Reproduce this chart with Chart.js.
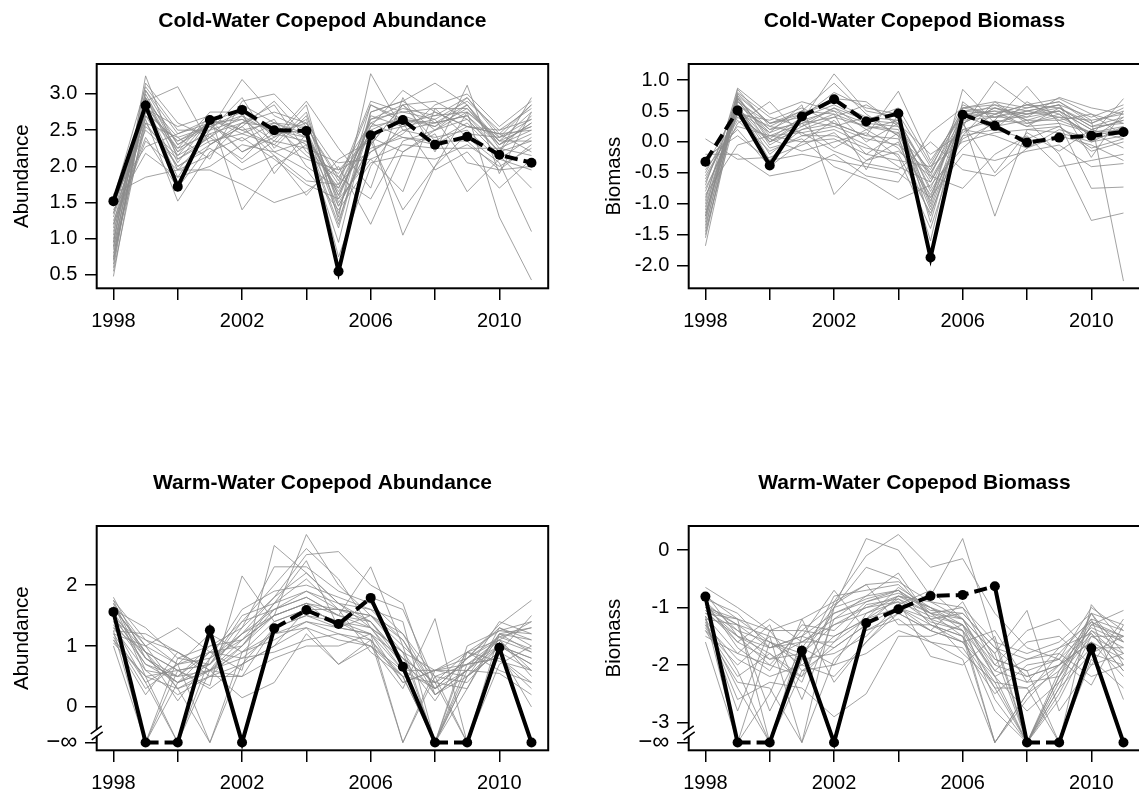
<!DOCTYPE html>
<html>
<head>
<meta charset="utf-8">
<script src="https://cdn.jsdelivr.net/npm/chart.js@4.4.1/dist/chart.umd.min.js"></script>
<style>
  html, body { margin: 0; padding: 0; background: #fff; overflow: hidden; width: 1139px; height: 794px; }
  canvas { position: absolute; }
</style>
</head>
<body>
<canvas id="coldAbund" width="570" height="332" style="left:0px;top:0px"></canvas>
<canvas id="coldBiom" width="570" height="332" style="left:592px;top:0px"></canvas>
<canvas id="warmAbund" width="570" height="332" style="left:0px;top:462px"></canvas>
<canvas id="warmBiom" width="570" height="332" style="left:592px;top:462px"></canvas>
<script>
// years on the x axis
const years = [1998, 1999, 2000, 2001, 2002, 2003, 2004, 2005, 2006, 2007, 2008, 2009, 2010, 2011];
const xTickYears = [1998, 2000, 2002, 2004, 2006, 2008, 2010];
const xLabelYears = [1998, 2002, 2006, 2010];
const N = -Infinity; // zero catch -> log = -inf

// ---- Cold-Water Copepod Abundance ----
const coldAbundObs = [1.52, 2.84, 1.72, 2.64, 2.78, 2.50, 2.49, 0.55, 2.43, 2.64, 2.30, 2.41, 2.16, 2.05];
const coldAbundDashed = [0, 0, 0, 1, 1, 1, 0, 0, 1, 1, 1, 1, 1];
const coldAbundTicks = [0.5, 1.0, 1.5, 2.0, 2.5, 3.0];
const coldAbundRuns = [
  [0.48, 2.95, 2.30, 2.55, 2.70, 2.45, 2.60, 1.60, 2.50, 2.70, 2.55, 2.80, 2.30, 2.60],
  [0.75, 3.25, 2.10, 2.40, 2.85, 2.60, 2.40, 1.75, 2.85, 2.60, 2.70, 2.95, 2.40, 2.85],
  [1.05, 3.05, 2.45, 2.65, 2.50, 2.30, 2.75, 1.45, 2.30, 2.85, 2.90, 2.65, 2.20, 2.95],
  [1.30, 2.70, 2.00, 2.30, 2.60, 2.85, 2.20, 1.90, 2.60, 2.40, 2.30, 2.55, 2.45, 2.20],
  [0.90, 2.80, 1.85, 2.50, 3.20, 2.70, 2.50, 1.30, 3.28, 2.50, 2.60, 2.70, 2.30, 2.50],
  [1.60, 2.27, 2.45, 2.60, 2.20, 2.40, 2.90, 2.25, 1.70, 2.95, 2.20, 3.12, 1.90, 2.75],
  [1.45, 2.65, 1.52, 2.20, 2.40, 2.10, 1.75, 1.55, 2.10, 1.65, 2.80, 2.40, 2.05, 1.10],
  [0.65, 3.00, 2.20, 2.70, 1.40, 2.00, 2.30, 0.95, 2.75, 2.90, 3.15, 2.85, 2.35, 2.35],
  [1.62, 1.85, 1.95, 1.95, 1.75, 1.50, 1.65, 2.00, 1.20, 2.20, 2.45, 1.65, 2.10, 1.95],
  [1.20, 2.90, 3.10, 2.30, 2.55, 2.90, 2.40, 1.65, 2.45, 1.05, 2.00, 2.75, 1.30, 0.43],
  [0.85, 2.60, 2.40, 2.10, 2.90, 3.00, 2.55, 1.80, 2.90, 2.75, 2.65, 2.90, 2.50, 2.80],
  [1.40, 2.18, 1.85, 2.00, 2.30, 2.20, 1.95, 1.40, 2.05, 2.15, 2.10, 2.30, 2.00, 2.25],
  [1.10, 2.75, 2.35, 2.60, 2.65, 2.35, 2.85, 1.25, 2.55, 3.05, 2.75, 2.55, 2.50, 2.65],
  [0.95, 3.15, 2.60, 2.40, 2.10, 2.55, 2.15, 1.85, 1.55, 2.35, 2.50, 2.85, 2.25, 2.45],
  [1.35, 2.85, 2.25, 2.75, 2.75, 1.90, 2.45, 0.75, 2.00, 2.60, 1.95, 2.20, 1.70, 2.10],
  [0.80, 2.55, 2.15, 2.65, 2.45, 2.65, 2.00, 1.70, 2.65, 2.85, 2.35, 2.60, 2.15, 1.70],
  [1.55, 3.10, 2.50, 2.50, 2.95, 2.25, 2.70, 1.50, 2.20, 2.45, 2.85, 3.00, 2.55, 2.90],
  [1.25, 2.40, 1.70, 2.30, 2.55, 2.15, 1.60, 2.10, 2.35, 1.40, 2.00, 2.45, 2.40, 2.55],
  [0.70, 2.95, 2.05, 2.65, 2.20, 2.45, 2.35, 1.15, 2.70, 2.55, 2.65, 2.05, 1.95, 2.30],
  [1.15, 2.85, 1.95, 2.15, 2.60, 2.75, 2.60, 1.95, 2.40, 2.20, 2.50, 2.75, 2.35, 2.75],
  [0.55, 2.70, 2.25, 2.45, 2.60, 2.55, 2.30, 1.70, 2.55, 2.65, 2.60, 2.70, 2.20, 2.70],
  [1.00, 2.90, 2.40, 2.55, 2.75, 2.45, 2.50, 1.55, 2.65, 2.75, 2.80, 2.80, 2.35, 2.55],
  [1.50, 2.50, 2.10, 2.35, 2.45, 2.30, 2.10, 1.95, 2.20, 2.50, 2.40, 2.50, 2.10, 2.40],
  [0.60, 3.05, 2.30, 2.60, 2.80, 2.40, 2.65, 1.35, 2.85, 2.65, 2.55, 2.95, 2.45, 2.85],
  [1.20, 2.35, 1.95, 2.45, 2.05, 2.35, 2.25, 2.05, 2.10, 2.30, 2.25, 2.25, 2.25, 2.15],
  [0.88, 2.80, 2.55, 2.70, 2.50, 2.60, 2.45, 1.60, 2.60, 2.80, 2.70, 2.75, 2.40, 2.65],
  [1.35, 2.60, 2.00, 2.25, 1.95, 2.15, 1.80, 1.75, 2.25, 2.40, 2.35, 2.35, 1.95, 2.00],
  [0.72, 2.85, 2.20, 2.50, 2.65, 2.50, 2.40, 1.20, 2.75, 2.90, 2.60, 2.85, 2.30, 2.60],
  [1.45, 2.75, 2.35, 2.55, 2.35, 2.60, 2.55, 1.85, 2.45, 2.55, 2.75, 2.55, 2.45, 2.50],
  [0.95, 2.95, 2.15, 2.40, 2.70, 2.20, 2.35, 1.45, 2.30, 2.85, 2.50, 2.65, 2.20, 2.35]
];

// ---- Cold-Water Copepod Biomass ----
const coldBiomObs = [-0.32, 0.51, -0.38, 0.41, 0.69, 0.33, 0.46, -1.87, 0.44, 0.26, -0.01, 0.07, 0.10, 0.16];
const coldBiomDashed = [1, 0, 0, 1, 1, 1, 0, 0, 1, 1, 1, 1, 1];
const coldBiomTicks = [-2.0, -1.5, -1.0, -0.5, 0.0, 0.5, 1.0];
const coldBiomRuns = [
  [-1.68, 0.70, 0.10, 0.30, 0.55, 0.20, 0.35, -0.60, 0.30, 0.55, 0.45, 0.50, 0.20, 0.35],
  [-1.30, 0.85, 0.25, 0.50, 0.95, 0.45, 0.10, -0.45, 0.60, 0.40, 0.55, 0.65, 0.30, 0.55],
  [-0.90, 0.60, -0.20, 0.20, 0.40, 0.60, 0.30, -0.80, 0.10, 0.65, 0.30, 0.40, 0.15, 0.20],
  [-0.50, 0.45, 0.35, 0.55, 0.30, 0.10, 0.82, -0.30, 0.45, 0.20, 0.65, 0.35, 0.45, 0.10],
  [0.05, -0.28, -0.25, -0.05, 0.15, -0.30, -0.15, -0.55, -0.75, -0.20, 0.10, -0.40, -0.30, -0.20],
  [-1.10, 0.75, 0.00, 0.35, 1.10, 0.50, 0.40, -1.00, 0.85, 0.30, 0.50, 0.60, 0.40, 0.60],
  [-0.20, -0.20, -0.55, -0.45, -0.20, -0.55, -0.65, 0.15, 0.55, 0.60, 0.35, -0.20, -1.27, -1.15],
  [-1.45, 0.50, 0.15, 0.60, -0.85, -0.30, 0.00, -1.20, 0.35, -1.20, 0.20, 0.25, -0.15, 0.00],
  [-0.75, 0.30, 0.65, 0.10, 0.20, -0.05, -0.40, -0.65, 0.25, 0.98, 0.60, 0.45, 0.10, 0.70],
  [-1.00, 0.65, 0.30, 0.40, 0.60, 0.35, 0.55, -0.35, 0.50, 0.55, 0.40, 0.72, 0.55, 0.45],
  [-0.40, 0.55, -0.10, 0.05, -0.40, -0.60, -0.93, -0.70, -0.10, 0.35, 0.90, 0.30, -0.75, -0.73],
  [-1.20, 0.80, 0.40, 0.25, 0.45, 0.25, 0.20, -0.90, 0.55, 0.45, 0.25, 0.55, 0.25, 0.40],
  [-0.60, 0.40, 0.05, -0.15, 0.00, 0.15, -0.25, -1.40, 0.20, 0.10, -0.10, 0.20, 0.05, 0.15],
  [-1.50, 0.70, 0.20, 0.45, 0.70, 0.65, 0.25, -0.50, 0.40, 0.60, 0.50, 0.40, 0.35, -2.25],
  [-0.85, -0.05, 0.10, 0.15, -0.15, -0.35, -0.45, 0.00, -0.45, -0.55, -0.10, 0.10, -0.05, -0.30],
  [-1.35, 0.60, -0.30, 0.35, 0.25, 0.40, 0.10, -1.60, 0.65, 0.25, 0.35, 0.50, 0.00, 0.25],
  [-0.95, 0.87, 0.45, 0.65, 0.50, 0.00, 0.30, -0.20, 0.15, 0.45, 0.60, 0.70, 0.45, 0.30],
  [-0.30, 0.20, -0.40, 0.00, 0.35, -0.20, 0.15, -1.10, 0.30, -0.50, 0.15, -0.15, 0.20, 0.05],
  [-1.15, 0.55, 0.00, 0.30, -0.10, 0.20, -0.10, -0.85, 0.05, 0.30, 0.45, 0.60, -0.25, 0.50],
  [-0.70, 0.75, 0.30, 0.50, 0.45, -0.45, 0.45, -0.40, 0.45, 0.50, 0.25, 0.30, 0.15, -0.10],
  [-1.25, 0.65, 0.15, 0.35, 0.50, 0.30, 0.25, -0.75, 0.40, 0.50, 0.45, 0.55, 0.25, 0.30],
  [-0.80, 0.45, 0.00, 0.20, 0.30, 0.10, 0.05, -0.95, 0.20, 0.35, 0.30, 0.45, 0.10, 0.20],
  [-1.40, 0.78, 0.30, 0.45, 0.65, 0.40, 0.35, -0.55, 0.55, 0.65, 0.55, 0.65, 0.35, 0.45],
  [-0.55, 0.35, -0.15, 0.10, 0.10, -0.10, -0.20, -1.15, 0.10, 0.20, 0.05, 0.25, -0.10, 0.05],
  [-1.05, 0.60, 0.20, 0.30, 0.40, 0.25, 0.15, -0.65, 0.35, 0.40, 0.40, 0.50, 0.20, 0.35],
  [-0.25, 0.10, -0.30, -0.20, -0.30, -0.40, -0.50, -0.90, -0.20, -0.30, -0.15, -0.05, -0.40, -0.35],
  [-1.55, 0.72, 0.05, 0.40, 0.80, 0.55, 0.45, -1.30, 0.50, 0.45, 0.60, 0.55, 0.30, 0.50],
  [-0.65, 0.50, 0.25, 0.15, 0.25, 0.05, -0.05, -0.50, 0.30, 0.55, 0.35, 0.35, 0.15, 0.25],
  [-1.20, 0.68, -0.05, 0.25, 0.55, 0.35, 0.30, -1.05, 0.45, 0.40, 0.50, 0.60, 0.05, 0.40],
  [-0.45, 0.25, 0.10, 0.00, 0.05, -0.20, -0.30, -0.40, 0.00, 0.15, 0.20, 0.15, 0.00, 0.10]
];

// ---- Warm-Water Copepod Abundance ----
const warmAbundObs = [1.56, N, N, 1.26, N, 1.29, 1.59, 1.36, 1.79, 0.66, N, N, 0.97, N];
const warmAbundDashed = [0, 1, 0, 0, 0, 1, 1, 1, 0, 0, 1, 0, 0];
const warmAbundTicks = [0, 1, 2];
const warmAbundRuns = [
  [1.80, 0.80, 0.40, 0.60, 1.10, 1.50, 2.83, 2.00, 1.50, 0.90, N, 0.50, 1.20, 0.90],
  [1.40, 1.10, 0.70, 0.90, 0.60, 2.65, 2.20, 1.70, 1.30, 0.60, 0.30, 0.80, 1.35, 1.75],
  [1.00, N, 0.60, 0.35, 2.15, 1.40, 1.60, 1.40, 1.10, 0.40, 0.60, 0.90, 1.10, 0.50],
  [1.70, 0.50, N, 0.80, 1.20, 1.80, 2.50, 2.55, 2.00, 1.70, 0.20, 0.60, 1.40, 1.20],
  [1.30, 0.90, 0.30, N, 0.90, 1.10, 1.40, 1.30, 1.20, N, 0.60, 0.70, 0.80, 0.30],
  [1.60, 1.30, 0.80, 0.70, 1.50, 1.70, 1.90, 1.60, 1.40, 0.70, N, 1.00, 1.25, 1.40],
  [1.10, 0.20, 0.90, 0.60, 0.15, 0.40, 1.20, 0.70, 1.00, 0.50, 0.40, N, 0.90, 0.00],
  [1.50, 0.70, 0.50, 1.00, 1.30, 2.30, 2.30, 1.90, 1.70, 1.20, 0.50, 0.40, 1.00, 0.80],
  [1.20, 1.00, 1.30, 0.90, 0.80, 0.90, 1.10, 1.20, 1.00, 0.30, 1.45, N, 0.70, 1.00],
  [1.75, 0.60, 0.20, 0.50, 1.00, 1.60, 1.80, 1.50, 2.30, 1.00, N, 0.60, 1.10, 0.60],
  [1.35, 0.40, 0.70, N, 0.70, 1.30, 1.50, 1.40, 1.20, 0.80, 0.10, 0.90, 0.60, 0.40],
  [1.65, 0.90, 0.10, 0.80, 1.60, 1.90, 2.00, 1.80, 1.60, 1.40, N, 0.30, 1.30, 1.10],
  [1.15, 0.30, 0.70, 1.20, 0.90, 1.20, 1.30, 0.70, 1.10, N, 0.50, 0.70, 1.00, 0.70],
  [1.45, 0.80, 0.40, 0.70, 1.40, 2.00, 2.60, 2.10, 1.30, 0.90, 0.20, 0.50, 0.90, 1.50],
  [1.25, 1.20, 0.90, 0.50, 0.50, 0.80, 1.00, 1.00, 1.20, 0.60, 0.60, 0.60, 0.55, 0.20],
  [1.55, N, 0.80, 1.00, 1.10, 1.50, 1.70, 1.30, 1.50, 1.10, 0.30, 0.80, 1.15, 0.95],
  [1.05, 0.50, 0.60, 0.30, 0.70, 1.00, 1.60, 1.60, 0.90, 0.50, N, 0.90, 0.75, 0.60],
  [1.70, 1.00, 0.30, 0.60, 1.00, 1.70, 2.40, 1.30, 1.80, 1.60, 0.40, 0.30, 1.20, 1.30],
  [1.50, 0.90, 0.60, 0.70, 1.20, 1.60, 1.80, 1.50, 1.40, 0.80, 0.40, 0.70, 1.10, 0.90],
  [1.30, 0.60, 0.50, 0.60, 0.90, 1.40, 1.60, 1.40, 1.30, 0.70, 0.30, 0.60, 1.00, 0.80],
  [1.60, 1.00, 0.70, 0.80, 1.10, 1.70, 2.10, 1.60, 1.50, 1.00, 0.50, N, 1.20, 1.10],
  [1.20, 0.40, N, 0.60, 0.80, 1.20, 1.40, 1.20, 1.10, 0.50, N, 0.50, 0.90, 0.60],
  [1.40, 0.70, 0.40, 0.90, 1.00, 1.50, 1.70, 1.50, 1.30, 0.90, 0.60, 0.80, 1.30, 1.00],
  [1.75, 1.10, 0.90, 0.60, 1.30, 1.80, 2.20, 1.70, 1.60, 1.10, 0.20, 0.60, 1.15, 1.30],
  [1.10, 0.50, 0.30, 0.50, 0.70, 1.00, 1.30, 1.10, 1.00, 0.60, N, 0.70, 0.80, 0.40],
  [1.55, 0.80, 0.50, 0.90, 1.40, 1.60, 1.90, 1.70, 1.40, 0.80, 0.40, 0.90, 1.25, 1.20],
  [1.25, N, 0.40, 0.60, 0.50, 1.30, 1.50, 1.30, 1.20, 0.40, 0.60, 0.50, 1.00, 0.70],
  [1.65, 0.90, 0.60, 0.70, 1.20, 1.50, 1.70, 1.60, 1.50, 1.20, 0.30, 0.80, 1.10, 1.40]
];

// ---- Warm-Water Copepod Biomass ----
const warmBiomObs = [-0.81, N, N, -1.75, N, -1.27, -1.03, -0.80, -0.78, -0.63, N, N, -1.71, N];
const warmBiomDashed = [0, 1, 0, 0, 0, 1, 1, 1, 1, 0, 1, 0, 0];
const warmBiomTicks = [-3, -2, -1, 0];
const warmBiomRuns = [
  [-0.65, -1.00, -1.40, -1.20, -0.90, -0.10, 0.27, -0.30, -0.15, -1.10, -1.70, -1.90, -1.00, -1.40],
  [-1.00, -1.50, -1.80, -2.20, -1.00, 0.20, 0.00, -0.80, 0.20, -1.60, N, -2.20, -1.30, -1.05],
  [-1.30, -2.40, N, -1.50, -1.70, -1.30, -0.80, -1.00, -1.40, -2.40, -2.40, N, -0.95, -1.60],
  [-1.10, -1.20, -1.60, -1.90, -0.80, -0.70, -0.60, -1.10, -1.00, -2.00, -1.40, -1.20, -1.80, -1.50],
  [-1.60, N, -1.60, -2.00, -2.20, -1.60, -1.00, -1.40, -1.60, -2.20, N, -2.50, -1.40, -1.90],
  [-0.90, -1.70, -2.10, -1.30, -1.40, -0.90, -0.70, -1.30, -1.50, N, -2.60, -2.00, -1.60, -2.20],
  [-1.20, -1.30, -2.80, -1.70, -2.00, -1.10, -0.80, -0.90, -1.20, -1.80, -1.05, -2.80, -2.00, -1.80],
  [-1.40, -2.00, -1.50, N, -1.00, -0.30, -0.50, -1.20, -1.10, -1.70, -2.20, -2.00, -1.20, -2.60],
  [-0.85, -1.10, -1.70, -1.50, -0.70, -1.40, -1.20, -1.60, -1.70, -2.50, -2.00, -1.90, -2.35, -1.30],
  [-1.05, -1.40, -1.90, -1.80, -1.30, -1.00, -0.90, -1.85, -2.00, -1.50, N, -2.20, -1.10, -2.00],
  [-1.25, -2.60, -2.30, -2.40, -2.90, -2.50, -1.50, -1.50, -1.30, -2.20, -2.80, -2.30, -1.70, -1.70],
  [-0.95, -1.60, -1.20, -1.60, -1.60, -1.20, -0.65, -1.00, -1.30, -2.60, N, -2.60, -1.50, -1.50],
  [-1.15, N, -2.50, -1.20, -2.30, -1.60, -1.10, -1.40, -0.90, -1.90, -2.10, N, -1.90, -2.40],
  [-1.50, -1.80, -1.30, -2.60, -1.20, -0.80, -0.40, -1.20, -1.80, -2.30, N, -2.10, -1.25, -1.60],
  [-1.00, -1.20, N, -1.90, -1.80, -1.50, -0.95, -0.70, -1.20, -2.10, -1.60, -1.50, -2.00, -1.20],
  [-1.35, -2.20, -1.80, -2.30, -0.90, -0.60, -1.30, -1.30, -1.60, -1.40, -2.30, -1.70, -1.45, -2.10],
  [-0.75, -1.50, -2.00, -1.40, -1.50, -1.20, -0.85, -1.10, -1.50, -2.80, N, -2.40, -1.10, -1.80],
  [-1.20, -2.80, -1.40, -2.10, -2.00, -1.80, -1.40, -1.60, -1.90, N, -2.50, -1.80, -2.20, -2.00],
  [-1.10, -1.50, -1.70, -1.60, -1.20, -1.00, -0.80, -1.10, -1.30, -2.00, -2.20, -2.00, -1.40, -1.70],
  [-0.90, -1.40, -1.60, -1.80, -1.10, -0.90, -0.75, -1.00, -1.20, -1.80, N, -2.30, -1.30, -1.50],
  [-1.30, -1.90, -2.20, -2.00, -1.50, -1.20, -1.00, -1.30, -1.50, -2.30, -2.40, -2.00, -1.60, -1.90],
  [-1.00, -1.30, -1.50, -1.70, -1.00, -0.80, -0.70, -1.05, -1.10, -1.70, -1.90, -1.80, -1.20, -1.40],
  [-1.20, -2.10, N, -2.10, -1.70, -1.30, -1.00, -1.20, -1.40, -2.10, -2.30, -2.20, -1.50, -1.80],
  [-0.80, -1.20, -1.40, -1.40, -0.95, -0.60, -0.55, -0.90, -1.00, -1.60, -1.80, -1.60, -1.10, -1.30],
  [-1.40, -2.30, -2.40, N, -1.90, -1.40, -1.10, -1.40, -1.60, -2.40, N, -2.40, -1.80, -2.00],
  [-1.05, -1.60, -1.90, -1.60, -1.30, -1.10, -0.90, -1.15, -1.30, -1.90, -2.10, -1.90, -1.35, -1.60],
  [-1.15, -1.80, -2.00, -2.20, -1.60, -0.95, -0.85, -1.25, -1.40, N, -2.50, -2.10, -1.45, -2.10],
  [-0.95, -1.30, -1.70, -1.50, -1.10, -0.85, -0.70, -1.10, -1.20, -2.20, -1.90, -1.70, -1.25, -1.50]
];

Chart.defaults.font.family = "'Liberation Sans', Arial, Helvetica, sans-serif";
Chart.defaults.color = '#000';

// box round the plot region + axis break mark for -inf panels
const boxPlugin = {
  id: 'rbox',
  afterDraw(chart, args, opts) {
    const ctx = chart.ctx;
    const a = chart.chartArea;
    ctx.save();
    ctx.strokeStyle = '#000';
    ctx.lineWidth = 2;
    ctx.strokeRect(a.left, a.top, a.right - a.left, a.bottom - a.top);
    if (opts.breakAt !== null && opts.breakAt !== undefined) {
      const y = chart.scales.y.getPixelForValue(opts.breakAt);
      const x = a.left;
      ctx.fillStyle = '#fff';
      ctx.fillRect(x - 3, y - 3, 6, 6);
      ctx.lineWidth = 1.5;
      ctx.beginPath();
      ctx.moveTo(x - 6, y + 1); ctx.lineTo(x + 5, y - 7);
      ctx.moveTo(x - 5, y + 7); ctx.lineTo(x + 6, y - 1);
      ctx.stroke();
    }
    ctx.restore();
  }
};

function makePanel(id, title, yTitle, obs, runs, dashed, yTicks, yMin, yMax, negInfAt, breakAt, digits) {
  const toY = v => (v === -Infinity ? negInfAt : v);
  const datasets = runs.map(r => ({
    data: years.map((yr, i) => ({ x: yr, y: toY(r[i]) })),
    borderColor: 'rgb(138,138,138)',
    borderWidth: 0.8,
    pointRadius: 0,
    order: 1
  }));
  datasets.push({
    data: years.map((yr, i) => ({ x: yr, y: toY(obs[i]) })),
    borderColor: '#000',
    borderWidth: 4,
    pointRadius: 5,
    pointBackgroundColor: '#000',
    pointBorderWidth: 0,
    segment: {
      borderDash: c => (dashed[c.p0DataIndex] ? [13, 6] : undefined)
    },
    order: 0
  });

  const tickVals = negInfAt !== null ? [negInfAt].concat(yTicks) : yTicks;

  new Chart(document.getElementById(id), {
    type: 'line',
    data: { datasets: datasets },
    plugins: [boxPlugin],
    options: {
      responsive: false,
      animation: false,
      layout: { padding: { left: 0, top: 0, right: 21.8, bottom: 0 } },
      plugins: {
        legend: { display: false },
        tooltip: { enabled: false },
        title: {
          display: true,
          text: title,
          fullSize: false,
          font: { size: 21, weight: 'bold' },
          color: '#000',
          padding: { top: 8.4, bottom: 30.4 }
        },
        rbox: { breakAt: breakAt }
      },
      scales: {
        x: {
          type: 'linear',
          min: 1997.48,
          max: 2011.52,
          afterBuildTicks: s => { s.ticks = xTickYears.map(v => ({ value: v })); },
          afterFit: s => { s.height = 43.7; },
          border: { display: false },
          grid: { drawOnChartArea: false, tickLength: 11.7, color: '#000', lineWidth: 1.5 },
          ticks: {
            autoSkip: false,
            maxRotation: 0,
            padding: 9,
            font: { size: 20 },
            color: '#000',
            callback: v => (xLabelYears.includes(v) ? String(v) : '')
          }
        },
        y: {
          min: yMin,
          max: yMax,
          afterBuildTicks: s => { s.ticks = tickVals.map(v => ({ value: v })); },
          afterFit: s => { s.width = 96.7; },
          border: { display: false },
          grid: { drawOnChartArea: false, tickLength: 11.7, color: '#000', lineWidth: 1.5 },
          title: {
            display: true,
            text: yTitle,
            font: { size: 20.5 },
            color: '#000',
            padding: { top: 10, bottom: 0 }
          },
          ticks: {
            padding: 7.7,
            font: c => ({ size: (negInfAt !== null && c.tick && c.tick.value === negInfAt) ? 24 : 20 }),
            color: '#000',
            callback: v => (negInfAt !== null && v === negInfAt ? '\u2212\u221E' : v.toFixed(digits))
          }
        }
      }
    }
  });
}

makePanel('coldAbund', 'Cold-Water Copepod Abundance', 'Abundance',
  coldAbundObs, coldAbundRuns, coldAbundDashed, coldAbundTicks, 0.316, 3.414, null, null, 1);
makePanel('coldBiom', 'Cold-Water Copepod Biomass', 'Biomass',
  coldBiomObs, coldBiomRuns, coldBiomDashed, coldBiomTicks, -2.367, 1.26, null, null, 1);
makePanel('warmAbund', 'Warm-Water Copepod Abundance', 'Abundance',
  warmAbundObs, warmAbundRuns, warmAbundDashed, warmAbundTicks, -0.712, 2.97, -0.585, -0.425, 0);
makePanel('warmBiom', 'Warm-Water Copepod Biomass', 'Biomass',
  warmBiomObs, warmBiomRuns, warmBiomDashed, warmBiomTicks, -3.483, 0.418, -3.348, -3.18, 0);
</script>
</body>
</html>
